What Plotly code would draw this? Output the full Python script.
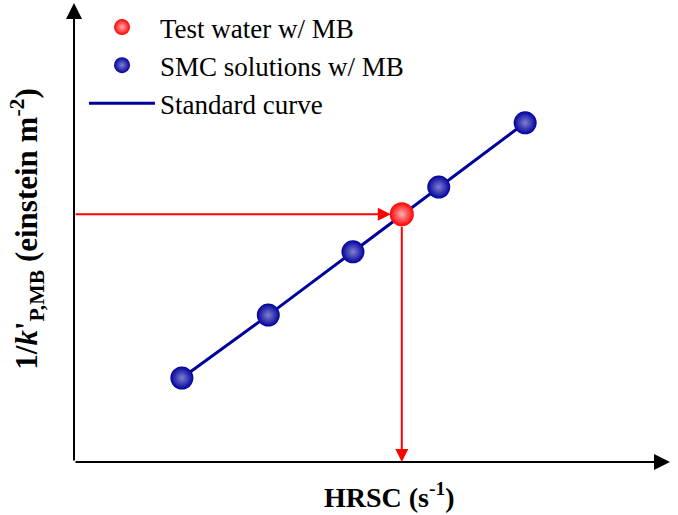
import plotly.graph_objects as go

# Data (arbitrary units)
smc_x = [1.81, 3.26, 4.68, 6.12, 7.57]
smc_y = [1.83, 3.20, 4.58, 5.99, 7.39]
test_x = [5.50]
test_y = [5.40]
x_range = [0, 10]
y_range = [0, 10]

navy = "#00009C"
red = "#FF0000"
font_fam = "Liberation Serif, Times New Roman, serif"

fig = go.Figure()
fig.add_trace(go.Scatter(x=smc_x, y=smc_y, mode="lines", name="Standard curve",
                         line=dict(color=navy, width=3), legendrank=3))
fig.add_trace(go.Scatter(x=smc_x, y=smc_y, mode="markers", name="SMC solutions w/ MB",
                         marker=dict(size=23, color=navy, line=dict(width=0),
                                     gradient=dict(type="radial", color="#8080D0")),
                         legendrank=2))
fig.add_trace(go.Scatter(x=test_x, y=test_y, mode="markers", name="Test water w/ MB",
                         marker=dict(size=24, color=red, line=dict(width=0),
                                     gradient=dict(type="radial", color="#FFB0B0")),
                         legendrank=1))

ann = []
# axes arrows
ann.append(dict(x=x_range[1], y=y_range[0], ax=x_range[0], ay=y_range[0],
                xref="x", yref="y", axref="x", ayref="y", text="", showarrow=True,
                arrowhead=2, arrowwidth=2, arrowsize=1.6, arrowcolor="black"))
ann.append(dict(x=x_range[0], y=y_range[1], ax=x_range[0], ay=y_range[0],
                xref="x", yref="y", axref="x", ayref="y", text="", showarrow=True,
                arrowhead=2, arrowwidth=2, arrowsize=1.6, arrowcolor="black"))
# red guide arrows
ann.append(dict(x=test_x[0], y=test_y[0], ax=x_range[0], ay=test_y[0],
                xref="x", yref="y", axref="x", ayref="y", text="", showarrow=True,
                arrowhead=2, arrowwidth=2, arrowsize=1.3, arrowcolor=red, standoff=11))
ann.append(dict(x=test_x[0], y=y_range[0], ax=test_x[0], ay=test_y[0],
                xref="x", yref="y", axref="x", ayref="y", text="", showarrow=True,
                arrowhead=2, arrowwidth=2, arrowsize=1.3, arrowcolor=red, startstandoff=11))
# axis titles
ann.append(dict(x=0.53, y=-0.072, xref="paper", yref="paper", showarrow=False,
                text="HRSC (s<sup>-1</sup>)", yanchor="middle",
                font=dict(family=font_fam, size=28, color="black", weight="bold")))
ann.append(dict(x=-0.079, y=0.508, xref="paper", yref="paper", showarrow=False,
                text="1/<i>k</i>'<sub>P,MB</sub> (einstein m<sup>-2</sup>)", textangle=-90,
                xanchor="center", yanchor="middle",
                font=dict(family=font_fam, size=31, color="black", weight="bold")))

fig.update_layout(
    width=678, height=515,
    margin=dict(l=74, r=8, t=3, b=53),
    paper_bgcolor="white", plot_bgcolor="white",
    xaxis=dict(range=x_range, showgrid=False, zeroline=False, showticklabels=False,
               ticks="", showline=False),
    yaxis=dict(range=y_range, showgrid=False, zeroline=False, showticklabels=False,
               ticks="", showline=False),
    showlegend=True,
    legend=dict(x=0.0168, y=1.0, xanchor="left", yanchor="top", itemwidth=66,
                font=dict(family=font_fam, size=27, color="black"),
                bgcolor="rgba(0,0,0,0)"),
    annotations=ann,
)

fig.write_html("out.html")
